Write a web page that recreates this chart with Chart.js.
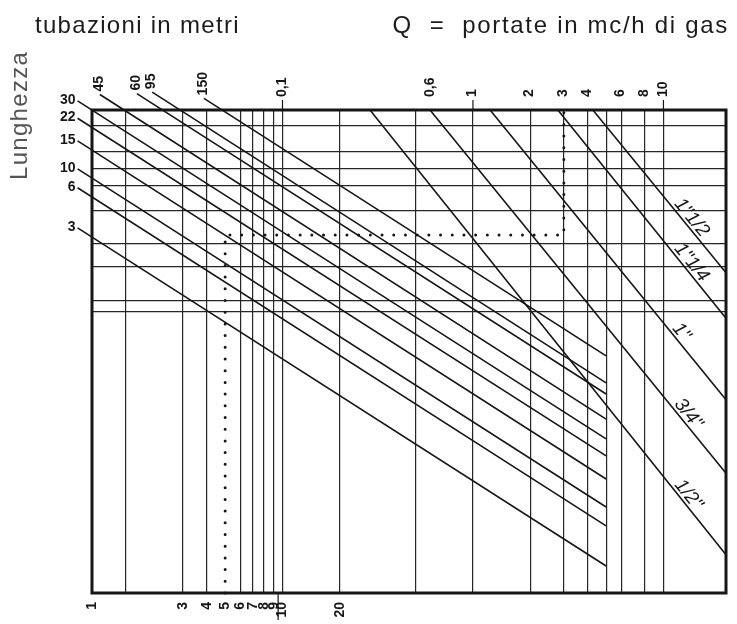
<!DOCTYPE html>
<html lang="it">
<head>
<meta charset="utf-8">
<title>Lunghezza tubazioni - portate gas</title>
<script src="https://cdn.jsdelivr.net/npm/chart.js"></script>
<style>
  html, body { margin: 0; padding: 0; background: #fff; }
  #nomogram { display: block; }
</style>
</head>
<body>
<canvas id="nomogram" width="737" height="624"></canvas>
<script>
// ---------------------------------------------
// 1. Data
// ---------------------------------------------
const X_MIN = 1;
const X_MAX = 2130;
const Y_TOP = 100;

// bottom scale labels and vertical grid lines
const bottomTicks = [1, 3, 4, 5, 6, 7, 8, 9, 10, 20];
const verticalLines = [1.5, 3, 4, 6, 7, 8, 9, 10, 20, 50, 100, 200, 300, 400, 500, 600, 800, 1000];

// top scale: Q in mc/h
const topTickValues = [10, 60, 100, 200, 300, 400, 600, 800, 1000];
const topTickLabels = ["0,1", "0,6", "1", "2", "3", "4", "6", "8", "10"];
const topTickMarks = [10, 100, 1000];

// horizontal grid lines (no labels on this axis)
const horizontalLines = [58.2, 60.5, 67.5, 72.3, 79.1, 84.3, 87.8, 91.3, 96.7];

// pipe lengths in metres: start of the leader, end on the 500 line
const lengthNames  = ["3", "6", "10", "15", "22", "30", "45", "60", "95", "150"];
const lengthStartX = [0.84, 0.84, 0.84, 0.84, 0.84, 0.84, 1.10, 1.72, 2.07, 3.87];
const lengthStartY = [75.6, 83.9, 87.8, 93.6, 98.3, 101.9, 103.2, 103.4, 103.7, 102.4];
const lengthEndX = 500;
const lengthEndY   = [5.6, 13.9, 17.8, 23.6, 28.4, 31.9, 36.0, 41.2, 43.5, 49.1];

// pipe diameters: from the top edge down to the right edge
const diameterNames  = ['1/2"', '3/4"', '1"', '1"1/4', '1"1/2'];
const diameterStartX = [28.8, 59.5, 123, 279, 426];
const diameterEndY   = [7.9, 24.8, 40.0, 56.9, 66.3];

// worked example (dotted path)
const exampleX = [5, 5, 300, 300];
const exampleY = [0, 74.1, 74.1, 100];

// ---------------------------------------------
// 2. Datasets
// ---------------------------------------------
const INK = "#161616";
const FONT = '"Liberation Sans", Arial, sans-serif';

const datasets = [];

lengthNames.forEach((name, i) => {
    datasets.push({
        label: name + " m",
        data: [
            { x: lengthStartX[i], y: lengthStartY[i] },
            { x: lengthEndX, y: lengthEndY[i] }
        ],
        borderColor: INK,
        borderWidth: 1.6
    });
});

diameterNames.forEach((name, i) => {
    datasets.push({
        label: name,
        data: [
            { x: diameterStartX[i], y: Y_TOP },
            { x: X_MAX, y: diameterEndY[i] }
        ],
        borderColor: INK,
        borderWidth: 1.6
    });
});

datasets.push({
    label: "esempio",
    data: exampleX.map((x, i) => ({ x: x, y: exampleY[i] })),
    borderColor: INK,
    borderWidth: 3,
    borderDash: [0, 11.7],
    borderCapStyle: "round"
});

// ---------------------------------------------
// 3. Frame, extra ticks and texts
// ---------------------------------------------
const decorations = {
    id: "decorations",
    afterDatasetsDraw(chart) {
        const { ctx, chartArea: a, scales } = chart;
        const xs = scales.x, ys = scales.y;

        const line = (x1, y1, x2, y2) => {
            ctx.beginPath();
            ctx.moveTo(x1, y1);
            ctx.lineTo(x2, y2);
            ctx.stroke();
        };

        ctx.save();
        ctx.strokeStyle = INK;
        ctx.fillStyle = INK;

        // frame
        ctx.lineWidth = 3;
        ctx.strokeRect(a.left, a.top, a.right - a.left, a.bottom - a.top);

        // small ticks outside the frame
        ctx.lineWidth = 1.2;
        topTickMarks.forEach(v => {
            const px = xs.getPixelForValue(v);
            line(px, a.top - 10, px, a.top);
        });
        const sep = (xs.getPixelForValue(9) + xs.getPixelForValue(10)) / 2;
        line(sep, a.bottom, sep, a.bottom + 27);

        // length labels at the end of each leader
        ctx.font = "bold 14px " + FONT;
        lengthNames.forEach((name, i) => {
            const px = xs.getPixelForValue(lengthStartX[i]);
            const py = ys.getPixelForValue(lengthStartY[i]);
            ctx.save();
            if (px < a.left) {
                ctx.textAlign = "right";
                ctx.textBaseline = "middle";
                ctx.fillText(name, px - 2, py - 1);
            } else {
                ctx.translate(px - 1, py - 3);
                ctx.rotate(-Math.PI / 2);
                ctx.textAlign = "left";
                ctx.textBaseline = "middle";
                ctx.fillText(name, 0, 0);
            }
            ctx.restore();
        });

        // diameter labels along their lines
        const labelAt = [1250, 1250, 1150, 1300, 1300];
        ctx.font = "italic 19px " + FONT;
        diameterNames.forEach((name, i) => {
            const x0 = xs.getPixelForValue(diameterStartX[i]), y0 = ys.getPixelForValue(Y_TOP);
            const x1 = xs.getPixelForValue(X_MAX), y1 = ys.getPixelForValue(diameterEndY[i]);
            const lx = xs.getPixelForValue(labelAt[i]);
            const ly = y0 + (lx - x0) * (y1 - y0) / (x1 - x0);
            ctx.save();
            ctx.translate(lx, ly);
            ctx.rotate(Math.atan2(y1 - y0, x1 - x0));
            ctx.textAlign = "center";
            ctx.textBaseline = "alphabetic";
            ctx.fillText(name, 0, -3);
            ctx.restore();
        });

        // titles
        ctx.font = "24px " + FONT;
        ctx.letterSpacing = "1.3px";
        ctx.fillStyle = "#1c1c1c";
        ctx.textBaseline = "alphabetic";
        ctx.textAlign = "left";
        ctx.fillText("tubazioni in metri", 35, 33);
        ctx.textAlign = "right";
        ctx.letterSpacing = "1.7px";
        ctx.fillText("Q  =  portate in mc/h di gas", 729, 33);

        ctx.save();
        ctx.letterSpacing = "1.3px";
        ctx.fillStyle = "#555";
        ctx.translate(27, 180);
        ctx.rotate(-Math.PI / 2);
        ctx.textAlign = "left";
        ctx.fillText("Lunghezza", 0, 0);
        ctx.restore();

        ctx.restore();
    }
};

// ---------------------------------------------
// 4. Chart
// ---------------------------------------------
const tickFont = { family: FONT, size: 14, weight: "bold" };
const bottomAll = [...new Set([...bottomTicks, ...verticalLines])].sort((p, q) => p - q);

new Chart(document.getElementById("nomogram"), {
    type: "scatter",
    data: { datasets: datasets },
    options: {
        responsive: false,
        animation: false,
        events: [],
        layout: { padding: { left: 0, right: 11, top: 0, bottom: 0 } },
        elements: {
            point: { radius: 0 },
            line: { tension: 0 }
        },
        datasets: {
            scatter: { showLine: true, clip: false }
        },
        plugins: {
            legend: { display: false },
            tooltip: { enabled: false }
        },
        scales: {
            x: {
                type: "logarithmic",
                position: "bottom",
                min: X_MIN,
                max: X_MAX,
                afterBuildTicks: s => { s.ticks = bottomAll.map(v => ({ value: v })); },
                afterFit: s => { s.height = 31; },
                border: { display: false },
                grid: {
                    color: c => verticalLines.includes(c.tick && c.tick.value) ? "#262626" : "rgba(0,0,0,0)",
                    lineWidth: 1.2,
                    drawTicks: false
                },
                ticks: {
                    autoSkip: false,
                    minRotation: 90,
                    maxRotation: 90,
                    padding: 9,
                    color: INK,
                    font: tickFont,
                    callback: v => bottomTicks.includes(v) ? String(v) : ""
                }
            },
            x2: {
                type: "logarithmic",
                position: "top",
                min: X_MIN,
                max: X_MAX,
                afterBuildTicks: s => { s.ticks = topTickValues.map(v => ({ value: v })); },
                afterFit: s => { s.height = 110; },
                border: { display: false },
                grid: { drawOnChartArea: false, drawTicks: false },
                ticks: {
                    autoSkip: false,
                    minRotation: 90,
                    maxRotation: 90,
                    padding: 13,
                    labelOffset: 16,
                    color: INK,
                    font: tickFont,
                    callback: (v, i) => topTickLabels[i]
                }
            },
            y: {
                type: "linear",
                min: 0,
                max: 100,
                afterBuildTicks: s => { s.ticks = horizontalLines.map(v => ({ value: v })); },
                afterFit: s => { s.width = 92; },
                border: { display: false },
                grid: { color: "#262626", lineWidth: 1.2, drawTicks: false },
                ticks: { display: false }
            }
        }
    },
    plugins: [decorations]
});
</script>
</body>
</html>
